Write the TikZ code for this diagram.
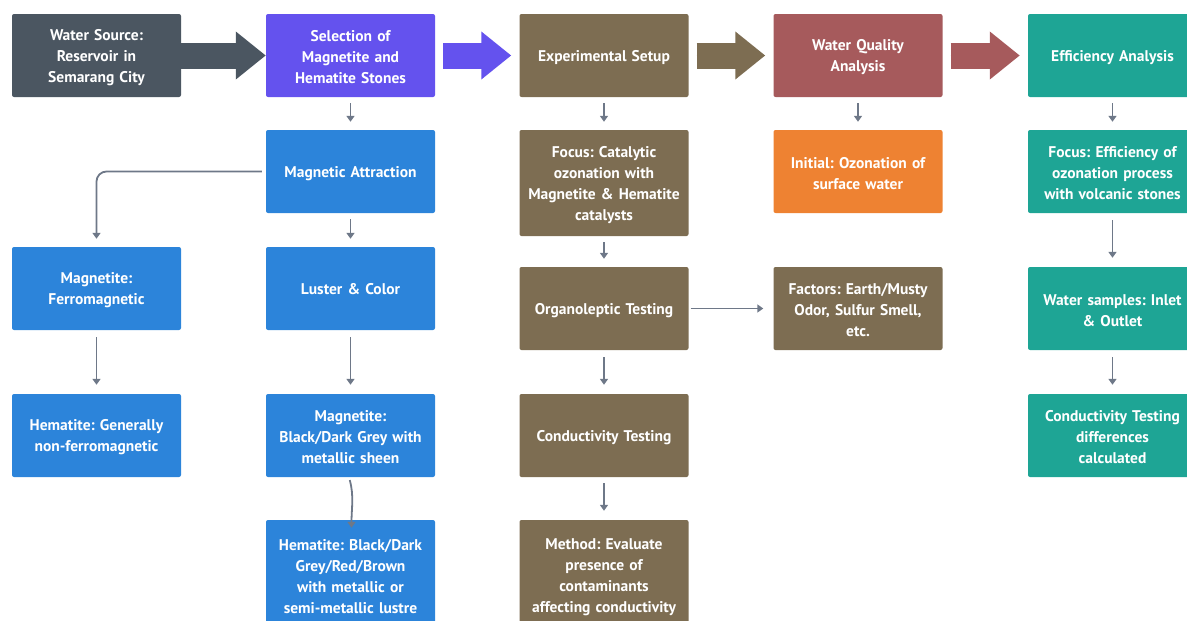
\documentclass[tikz,border=0pt]{standalone}
\usepackage{fontspec}
\setmainfont{PT Sans}
\usetikzlibrary{arrows.meta}
\definecolor{cslate}{HTML}{4B5661}
\definecolor{cpurple}{HTML}{6452EE}
\definecolor{cbrown}{HTML}{7D6D52}
\definecolor{crose}{HTML}{A65A5C}
\definecolor{cteal}{HTML}{1EA595}
\definecolor{cblue}{HTML}{2C84DA}
\definecolor{corange}{HTML}{EE8232}
\definecolor{cconn}{HTML}{6E7888}
\begin{document}
\frenchspacing
\begin{tikzpicture}[x=1pt,y=-1pt,
  box/.style={rectangle, rounded corners=2pt, minimum width=169pt, minimum height=83pt,
    inner sep=0pt, text width=164pt, align=center, text=white,
    font=\fontsize{15.5}{21}\selectfont\bfseries,
    execute at end node={\endgraf\vspace*{-4pt}}},
  bigarrow/.style={line width=26pt, -{Triangle[length=30pt,width=46pt]}},
  conn/.style={draw=cconn, line width=1.8pt, -{Triangle[length=6pt,width=8pt]}, fill=none},
  ]
\useasboundingbox (0,0) rectangle (1187,621);
% row 1
\node[box, fill=cslate]  (ws)  at (96.5,55.5) {Water Source:\\Reservoir in\\Semarang City};
\node[box, fill=cpurple] (sel) at (350.5,55.5) {Selection of\\Magnetite and\\Hematite Stones};
\node[box, fill=cbrown]  (exp) at (604,55.5) {Experimental Setup};
\node[box, fill=crose]   (wqa) at (858,55.5) {Water Quality\\Analysis};
\node[box, fill=cteal]   (ea)  at (1112.5,55.5) {Efficiency Analysis};
% row 2
\node[box, fill=cblue]   (magattr) at (350.5,171.5) {Magnetic Attraction};
\node[box, fill=cbrown, minimum height=106pt] (focus) at (604,183) {Focus: Catalytic\\ozonation with\\Magnetite \& Hematite\\catalysts};
\node[box, fill=corange] (initial) at (858,171.5) {Initial: Ozonation of\\surface water};
\node[box, fill=cteal]   (focuseff) at (1112.5,171.5) {Focus: Efficiency of\\ozonation process\\with volcanic stones};
% row 3
\node[box, fill=cblue]   (magferro) at (96.5,288.5) {Magnetite:\\Ferromagnetic};
\node[box, fill=cblue]   (luster) at (350.5,288.5) {Luster \& Color};
\node[box, fill=cbrown]  (organo) at (604,308.5) {Organoleptic Testing};
\node[box, fill=cbrown]  (factors) at (858,308.5) {Factors: Earth/Musty\\Odor, Sulfur Smell,\\etc.};
\node[box, fill=cteal]   (samples) at (1112.5,308.5) {Water samples: Inlet\\\& Outlet};
% row 4
\node[box, fill=cblue]   (hemgen) at (96.5,435.5) {Hematite: Generally\\non-ferromagnetic};
\node[box, fill=cblue]   (magblack) at (350.5,435.5) {Magnetite:\\Black/Dark Grey with\\metallic sheen};
\node[box, fill=cbrown]  (cond) at (604,435.5) {Conductivity Testing};
\node[box, fill=cteal]   (conddiff) at (1112.5,435.5) {Conductivity Testing\\differences\\calculated};
% row 5
\node[box, fill=cblue, minimum height=110pt] (hemblack) at (350.5,575) {Hematite: Black/Dark\\Grey/Red/Brown\\with metallic or\\semi-metallic lustre};
\node[box, fill=cbrown, minimum height=110pt] (method) at (604,575) {Method: Evaluate\\presence of\\contaminants\\affecting conductivity};
% big arrows
\draw[bigarrow, draw=cslate, fill=cslate] (ws.east) -- (sel.west);
\draw[bigarrow, draw=cpurple, fill=cpurple, shorten <=8pt, shorten >=8pt] (sel.east) -- (exp.west);
\draw[bigarrow, draw=cbrown, fill=cbrown, shorten <=8pt, shorten >=8pt] (exp.east) -- (wqa.west);
\draw[bigarrow, draw=crose, fill=crose, shorten <=8pt, shorten >=8pt] (wqa.east) -- (ea.west);
% connectors
\draw[conn, shorten <=6pt, shorten >=8pt] (sel) -- (magattr);
\draw[conn, shorten <=6pt, shorten >=8pt] (magattr) -- (luster);
\draw[conn, rounded corners=10pt, shorten <=4pt, shorten >=8pt] (magattr.west) -- (magferro.north |- magattr.west) -- (magferro.north);
\draw[conn, shorten <=7pt, shorten >=9pt] (luster) -- (magblack);
\draw[conn, shorten <=7pt, shorten >=9pt] (magferro) -- (hemgen);
\draw[conn, shorten <=3pt] ([xshift=-1.5pt]magblack.south) to[out=-75,in=90] ([xshift=1pt,yshift=-8pt]hemblack.north);
\draw[conn, shorten <=6pt, shorten >=8pt] (exp) -- (focus);
\draw[conn, shorten <=6pt, shorten >=8pt] (focus) -- (organo);
\draw[conn, shorten <=7pt, shorten >=9pt] (organo) -- (cond);
\draw[conn, shorten <=6pt, shorten >=9pt] (cond) -- (method);
\draw[conn, shorten <=2pt, shorten >=10pt] (organo) -- (factors);
\draw[conn, shorten <=6pt, shorten >=8pt] (wqa) -- (initial);
\draw[conn, shorten <=6pt, shorten >=8pt] (ea) -- (focuseff);
\draw[conn, shorten <=7pt, shorten >=9pt] (focuseff) -- (samples);
\draw[conn, shorten <=7pt, shorten >=9pt] (samples) -- (conddiff);
\end{tikzpicture}
\end{document}
